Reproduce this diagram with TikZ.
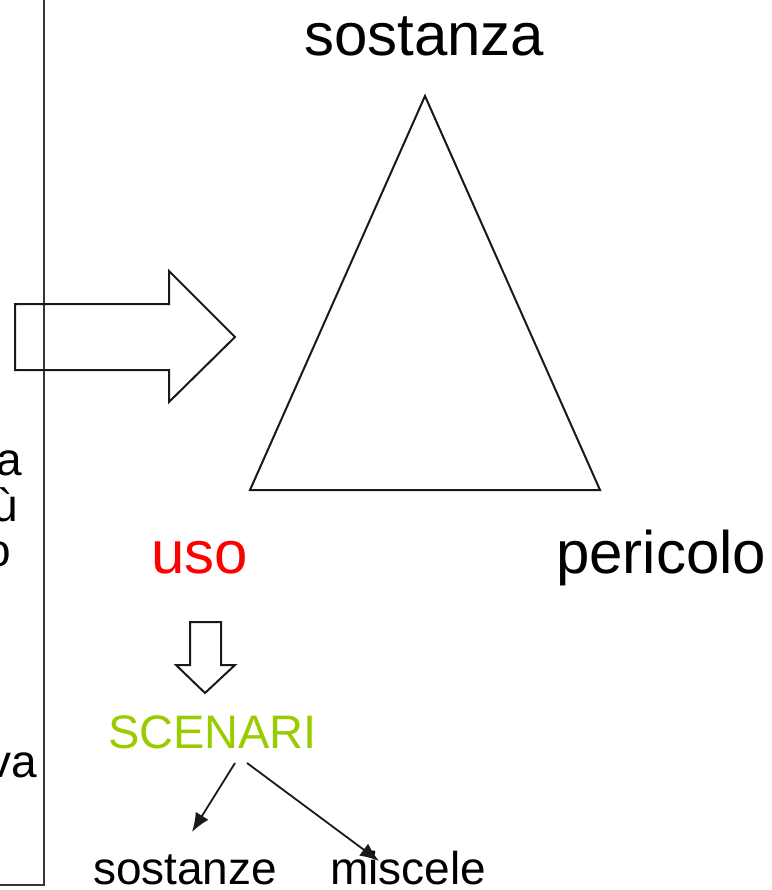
\documentclass[tikz,border=0pt]{standalone}
\usepackage{fontspec}
\setmainfont{Liberation Sans}
\usetikzlibrary{arrows.meta}
\definecolor{scengreen}{HTML}{99CC00}
\definecolor{framegray}{HTML}{383838}
\begin{document}
\begin{tikzpicture}[x=1pt,y=-1pt,
  shape line/.style={draw=black!90,line width=2pt,line join=miter},
  label text/.style={inner sep=0pt,outer sep=0pt,anchor=base west},
  big/.style={label text,font=\fontsize{60}{60}\selectfont},
  small/.style={label text,font=\fontsize{46}{46}\selectfont},
  tip arrow/.style={draw=black!90,line width=1.8pt,-{Latex[length=19pt,width=15pt]}}]
\useasboundingbox (0,0) rectangle (771,890);
\clip (0,0) rectangle (771,890);

% frame edge of the side panel
\draw[framegray,line width=2.4pt] (44,0) -- (44,885) -- (0,885);

% side panel text, cut at the page edge
\node[small,anchor=base east] (ta) at (22,475) {a};
\node[small,anchor=base east] (tb) at (18,521) {ù};
\node[small,anchor=base east] (tc) at (11,566) {o};
\node[small,anchor=base east] (td) at (37,777) {va};

% block arrow pointing right
\draw[shape line] (15,304) -- (169,304) -- (169,271) -- (235,337)
  -- (169,402) -- (169,370) -- (15,370) -- cycle;

% triangle
\coordinate (apex) at (425,96);
\coordinate (bl) at (250,490);
\coordinate (br) at (600,490);
\draw[shape line] (apex) -- (bl) -- (br) -- cycle;

% vertex labels
\node[big] (sostanza) at (304,56) {sostanza};
\node[big,text=red] (uso) at (151,573) {uso};
\node[big] (pericolo) at (556,573) {pericolo};

% block arrow pointing down
\draw[shape line] (190,622) -- (221,622) -- (221,665) -- (235,665)
  -- (205,693) -- (176,665) -- (190,665) -- cycle;

\node[small,text=scengreen,font=\fontsize{47}{47}\selectfont] (scenari) at (108,748) {SCENARI};

\node[small] (sostanze) at (93,884) {sostanze};
\node[small] (miscele) at (330,884) {miscele};

% branches from SCENARI
\coordinate (s1) at (235,763);
\coordinate (s2) at (247,763);
\coordinate (e1) at (192,832);
\coordinate (e2) at (379,861);
\draw[tip arrow] (s1) -- (e1);
\draw[tip arrow] (s2) -- (e2);
\end{tikzpicture}
\end{document}
